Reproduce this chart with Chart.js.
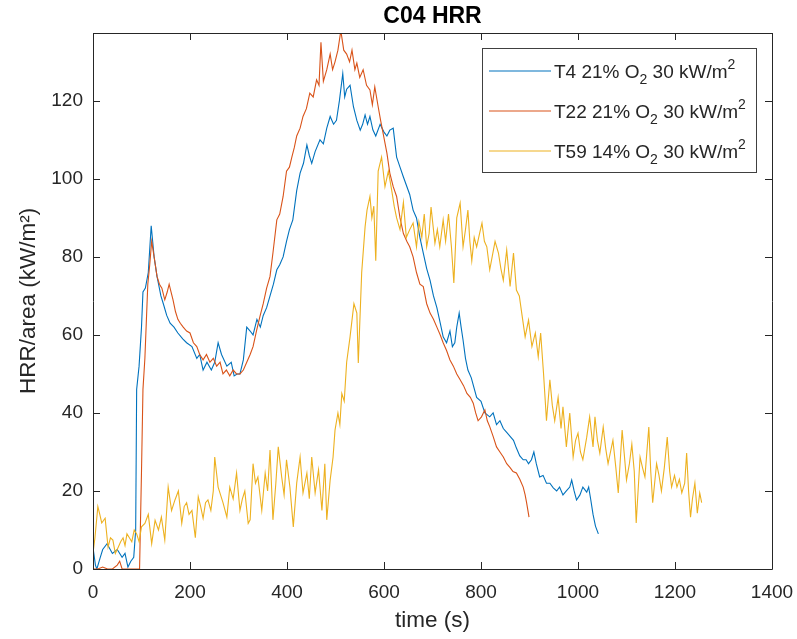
<!DOCTYPE html>
<html>
<head>
<meta charset="utf-8">
<script src="https://cdn.jsdelivr.net/npm/chart.js@4.4.1/dist/chart.umd.min.js"></script>
<style>
  html, body { margin: 0; padding: 0; background: #fff; }
  #wrap { width: 797px; height: 639px; }
</style>
</head>
<body>
<div id="wrap"><canvas id="hrrChart" width="797" height="639"></canvas></div>
<script>
// T4 21% O2
var t4Time = [0, 5, 8, 15, 20, 29, 40, 50, 60, 66, 72, 78, 84, 88, 90, 95, 100, 103, 108, 114, 120, 126, 132, 140, 145, 152, 159, 167, 175, 185, 193, 204, 214, 220, 227, 235, 244, 251, 258, 265, 276, 285, 291, 297, 303, 310, 317, 324, 330, 338, 345, 351, 358, 365, 372, 379, 385, 392, 399, 405, 412, 420, 427, 434, 441, 446, 451, 458, 468, 475, 482, 489, 496, 502, 508, 515, 519, 523, 530, 537, 544, 551, 556, 561, 566, 571, 577, 583, 592, 600, 606, 612, 619, 626, 633, 640, 653, 660, 667, 674, 681, 688, 695, 702, 709, 716, 722, 729, 736, 741, 746, 750, 755, 759, 763, 768, 773, 780, 791, 800, 808, 818, 825, 832, 839, 846, 853, 860, 867, 873, 880, 887, 893, 898, 904, 909, 914, 921, 928, 935, 942, 949, 956, 962, 969, 976, 983, 987, 992, 997, 1004, 1010, 1018, 1022, 1026, 1031, 1036, 1042];
var t4Hrr = [5.5, 1, 0, 3, 5, 6.5, 4, 5, 3, 4, 0.5, 2, 3, 10, 46, 52, 62, 71, 72, 76, 88, 80, 75, 70, 68, 65, 63, 62, 60.5, 59, 58, 57, 54, 55, 51, 53, 51, 53, 58, 55, 52, 53, 49.5, 50, 50, 53.6, 62, 61, 60, 64, 62, 65, 67, 70, 73, 76.7, 78, 80, 84, 87, 89.5, 97, 101.5, 104, 108.7, 106, 104, 107, 110, 109, 113, 116, 114, 115, 120, 127, 121, 123, 124, 118.5, 115, 112.5, 114, 116.4, 114, 116, 112.6, 111, 114, 112, 111, 112.5, 113, 105.6, 103, 100.5, 96, 92, 90, 85, 81, 77, 74, 70, 67, 63, 59.5, 58, 61, 57, 58, 62, 65.6, 62, 58.7, 54, 51, 49, 44, 43, 40, 39, 40, 37, 38, 36, 35, 34, 33, 31, 29, 28, 28, 27, 28, 30, 27, 23.6, 24, 22, 22, 20.8, 20, 21, 19, 20, 21, 22.8, 20, 17.7, 19, 21, 19.7, 21, 18, 14, 11, 9];

// T22 21% O2
var t22Time = [0, 10, 20, 30, 40, 50, 55, 60, 70, 80, 90, 96, 100, 103, 107, 113, 117, 121, 126, 132, 137, 142, 148, 153, 157, 161, 165, 170, 175, 180, 186, 193, 200, 207, 214, 220, 227, 234, 241, 248, 255, 262, 268, 275, 282, 289, 296, 303, 310, 317, 324, 330, 337, 344, 351, 358, 365, 371, 379, 385, 392, 399, 405, 410, 415, 420, 427, 433, 440, 447, 454, 461, 466, 470, 475, 482, 489, 494, 499, 505, 511, 517, 523, 529, 534, 540, 544, 550, 557, 564, 571, 576, 581, 588, 593, 598, 606, 612, 619, 626, 633, 640, 647, 653, 660, 667, 674, 681, 688, 695, 702, 709, 716, 722, 729, 736, 743, 750, 757, 764, 771, 778, 784, 789, 794, 801, 808, 813, 818, 825, 832, 839, 846, 853, 860, 866, 873, 880, 887, 891, 894, 899];
var t22Hrr = [0, 0, 0.5, 0, 0, 1, 2, 0, 0, 0, 0, 0, 25, 46, 54, 73, 78, 84, 80, 75, 73, 72, 69, 71, 73, 71, 69, 66, 64, 63, 62, 61, 60.5, 58, 57, 55, 53.6, 55, 53, 54, 52, 53, 50, 51, 49.5, 51, 50, 50, 51, 53, 55, 57, 61, 64.6, 68, 72, 75, 81, 89.5, 91, 95.5, 102, 103, 105.6, 108, 111, 113, 116, 118, 122, 121, 125.4, 124, 135, 125, 128, 132, 128, 130, 133, 138, 133, 132, 130, 133, 128, 129.7, 126, 128, 124, 122.8, 119, 123.6, 118.5, 115, 111.8, 106.6, 101.5, 98, 95.5, 90, 86, 84, 82.6, 80, 76, 73, 72.4, 68, 65.6, 64, 62, 60, 58, 56, 53.6, 52, 50, 48.5, 47, 45, 44, 42.5, 40, 38, 39, 40.8, 38, 36.5, 34, 31.3, 30, 28.7, 27, 26, 25, 24.6, 23, 21, 19, 17, 13.3];

// T59 14% O2
var t59Time = [0, 4, 10, 14, 18, 25, 31, 36, 41, 46, 52, 57, 62, 66, 70, 75, 80, 85, 90, 95, 100, 107, 114, 121, 128, 135, 141, 148, 155, 162, 169, 176, 183, 188, 193, 198, 204, 211, 217, 222, 227, 232, 237, 243, 248, 251, 258, 263, 268, 276, 282, 289, 296, 303, 308, 313, 320, 324, 330, 335, 340, 348, 355, 360, 365, 371, 377, 382, 389, 394, 399, 406, 413, 420, 427, 433, 441, 446, 451, 458, 465, 472, 478, 482, 489, 495, 499, 505, 509, 513, 518, 523, 530, 538, 544, 547, 554, 561, 565, 571, 575, 579, 583, 588, 595, 602, 609, 616, 621, 626, 633, 640, 646, 653, 660, 667, 672, 678, 683, 688, 693, 697, 705, 710, 715, 722, 727, 733, 739, 744, 750, 757, 763, 768, 773, 777, 781, 786, 791, 797, 802, 807, 812, 818, 823, 829, 836, 841, 846, 853, 860, 867, 873, 879, 884, 891, 898, 905, 912, 918, 923, 929, 935, 942, 947, 952, 959, 965, 969, 976, 983, 990, 995, 1000, 1005, 1010, 1018, 1024, 1031, 1035, 1040, 1045, 1052, 1057, 1062, 1067, 1072, 1078, 1083, 1091, 1095, 1100, 1106, 1111, 1116, 1120, 1128, 1133, 1138, 1146, 1150, 1154, 1162, 1167, 1172, 1178, 1184, 1189, 1193, 1199, 1204, 1209, 1214, 1220, 1224, 1228, 1232, 1236, 1241, 1246, 1251, 1255];
var t59Hrr = [4, 8, 16, 14, 11.8, 13, 5.6, 8, 7.4, 4, 5.6, 7, 8, 6, 9, 8, 7, 10, 9, 7, 10.8, 11.7, 14, 6.5, 12.5, 10, 13.3, 7.4, 21, 15, 17.7, 20, 11.7, 16, 17, 14, 15, 8, 18.5, 16, 13, 17, 17.7, 15, 20, 28.7, 21, 19, 17, 13.3, 21, 18, 24.6, 15, 18, 20, 11.7, 12.6, 27, 22, 23.6, 15, 24.6, 20, 30.5, 12.6, 22, 31.3, 23.6, 19, 28, 21, 10.8, 22, 28.7, 19.5, 24.6, 18, 28.7, 19.5, 25.4, 15, 27, 12.6, 22.8, 28.7, 35.6, 40, 37, 45, 43, 53, 59.5, 68, 65.6, 52.8, 76, 87.7, 92, 95.5, 90, 93, 79, 102, 105.6, 98, 102, 97, 93, 90, 87, 94, 85, 87, 88.7, 82.6, 89, 85, 91, 82.6, 86, 92.8, 83.5, 87, 82.6, 89.5, 84, 91, 82.6, 73.3, 90, 93.8, 82.6, 87, 92, 84, 79, 85, 82.6, 86, 88.7, 84, 82.6, 76.7, 80, 84, 81, 77, 74, 81.8, 72.4, 81, 71.5, 70, 65.6, 59.5, 63.8, 57, 60.5, 54.4, 60.5, 50, 38, 48.5, 42, 38, 44, 36, 41.6, 31.3, 40, 28.7, 33, 34.8, 30, 28, 33.8, 39, 31.3, 39, 33, 29.7, 36.4, 31, 27, 30, 33, 26, 19.5, 35.6, 30, 22.8, 27, 32, 25, 11.8, 28.7, 26, 23.6, 36.4, 25, 17, 27, 24, 20, 26, 33.8, 25, 21, 24, 21, 23, 19.5, 22, 29.7, 20, 13.3, 18, 22, 14.3, 19.5, 17];

var seriesLabels = ["T4 21% O₂ 30 kW/m²", "T22 21% O₂ 30 kW/m²", "T59 14% O₂ 30 kW/m²"];
var seriesColors = ["#0072BD", "#D95319", "#EDB120"];

var xTicks = [0, 200, 400, 600, 800, 1000, 1200, 1400];
var yTicks = [0, 20, 40, 60, 80, 100, 120];

var FONT = "'Liberation Sans', Arial, Helvetica, sans-serif";
var AXIS_COLOR = "#262626";

function toPoints(xs, ys) {
  return xs.map(function (x, i) { return { x: x, y: ys[i] }; });
}

// box + inward ticks like matlab, and the boxed legend in the upper right
const matlabAxes = {
  id: "matlabAxes",
  afterDatasetsDraw(chart) {
    const ctx = chart.ctx;
    const a = chart.chartArea;
    const xs = chart.scales.x, ys = chart.scales.y;
    const tl = 7;
    ctx.save();
    ctx.strokeStyle = AXIS_COLOR;
    ctx.lineWidth = 1;
    ctx.beginPath();
    ctx.rect(Math.round(a.left) + 0.5, Math.round(a.top) + 0.5,
             Math.round(a.right - a.left), Math.round(a.bottom - a.top));
    xTicks.forEach(function (v) {
      const px = Math.round(xs.getPixelForValue(v)) + 0.5;
      ctx.moveTo(px, a.bottom); ctx.lineTo(px, a.bottom - tl);
      ctx.moveTo(px, a.top); ctx.lineTo(px, a.top + tl);
    });
    yTicks.forEach(function (v) {
      const py = Math.round(ys.getPixelForValue(v)) + 0.5;
      ctx.moveTo(a.left, py); ctx.lineTo(a.left + tl, py);
      ctx.moveTo(a.right, py); ctx.lineTo(a.right - tl, py);
    });
    ctx.stroke();

    // legend
    const bx = 482.5, by = 48.5, bw = 274, bh = 124;
    ctx.fillStyle = "#fff";
    ctx.fillRect(bx, by, bw, bh);
    ctx.strokeStyle = "#404040";
    ctx.strokeRect(bx, by, bw, bh);
    const size = 19, small = 14;
    ctx.textBaseline = "alphabetic";
    chart.data.datasets.forEach(function (ds, i) {
      const cy = 71 + i * 40;
      ctx.strokeStyle = ds.borderColor;
      ctx.lineWidth = 1.2;
      ctx.beginPath();
      ctx.moveTo(489, cy); ctx.lineTo(551, cy);
      ctx.stroke();
      // split label so ₂ goes low and ² goes high
      let x = 554;
      const base = cy + 7;
      ctx.fillStyle = AXIS_COLOR;
      ds.label.split(/([₂²])/).forEach(function (part) {
        if (!part) return;
        if (part === "₂" || part === "²") {
          ctx.font = small + "px " + FONT;
          const dy = part === "₂" ? 6 : -9;
          ctx.fillText("2", x, base + dy);
          x += ctx.measureText("2").width;
        } else {
          ctx.font = size + "px " + FONT;
          ctx.fillText(part, x, base);
          x += ctx.measureText(part).width;
        }
      });
    });
    ctx.restore();
  }
};

new Chart(document.getElementById("hrrChart"), {
  type: "line",
  data: {
    datasets: [
      { label: seriesLabels[0], data: toPoints(t4Time, t4Hrr), borderColor: seriesColors[0], order: 2 },
      { label: seriesLabels[1], data: toPoints(t22Time, t22Hrr), borderColor: seriesColors[1], order: 1 },
      { label: seriesLabels[2], data: toPoints(t59Time, t59Hrr), borderColor: seriesColors[2], order: 0 }
    ]
  },
  options: {
    responsive: false,
    animation: false,
    devicePixelRatio: 1,
    elements: {
      line: { borderWidth: 1.1, tension: 0, fill: false },
      point: { radius: 0 }
    },
    layout: { padding: { top: 0, right: 25, bottom: 0, left: 0 } },
    plugins: {
      legend: { display: false },
      tooltip: { enabled: false },
      title: {
        display: true,
        fullSize: false,
        text: "C04 HRR",
        color: "#000",
        font: { family: FONT, size: 23, weight: "bold" },
        padding: { top: 3, bottom: 2.4 }
      }
    },
    scales: {
      x: {
        type: "linear",
        min: 0,
        max: 1400,
        afterFit: function (s) { s.height = 70; s.paddingLeft = 0; s.paddingRight = 0; },
        afterBuildTicks: function (s) { s.ticks = xTicks.map(function (v) { return { value: v }; }); },
        grid: { display: false, drawTicks: false },
        border: { display: false },
        ticks: {
          color: AXIS_COLOR, font: { family: FONT, size: 19 }, padding: 12, maxRotation: 0,
          callback: function (v) { return String(v); }
        },
        title: { display: true, text: "time (s)", color: AXIS_COLOR, font: { family: FONT, size: 22.5 }, padding: { top: 0, bottom: 5 } }
      },
      y: {
        type: "linear",
        min: 0,
        max: 137.4,
        afterFit: function (s) { s.width = 93; s.paddingTop = 0; s.paddingBottom = 0; },
        afterBuildTicks: function (s) { s.ticks = yTicks.map(function (v) { return { value: v }; }); },
        grid: { display: false, drawTicks: false },
        border: { display: false },
        ticks: {
          color: AXIS_COLOR, font: { family: FONT, size: 19 }, padding: 10,
          callback: function (v) { return String(v); }
        },
        title: { display: true, text: "HRR/area (kW/m²)", color: AXIS_COLOR, font: { family: FONT, size: 22.5 }, padding: { top: 15, bottom: 0 } }
      }
    }
  },
  plugins: [matlabAxes]
});
</script>
</body>
</html>
